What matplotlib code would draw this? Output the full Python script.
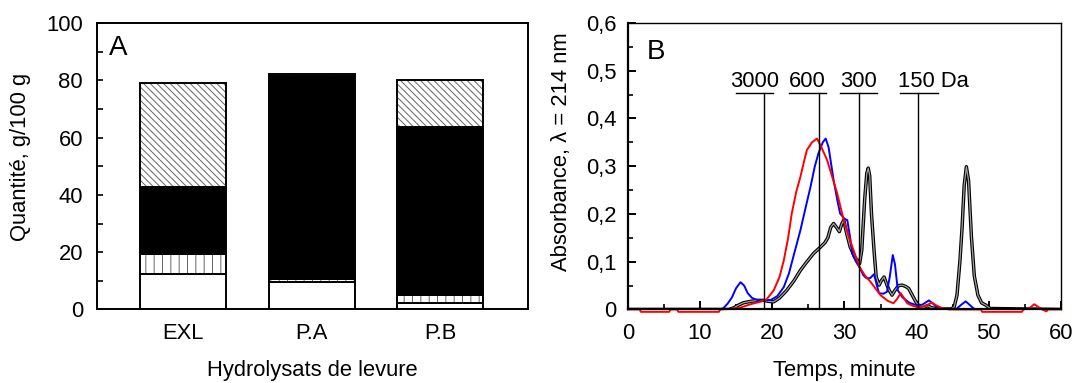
import numpy as np
import matplotlib
matplotlib.use('Agg')
import matplotlib.pyplot as plt
from matplotlib.ticker import MultipleLocator, FuncFormatter

plt.rcParams['font.family'] = ['Liberation Sans', 'DejaVu Sans']
plt.rcParams['hatch.linewidth'] = 0.7

FS = 15.8

# --- panel A : stacked composition (g/100 g) ---
samples = ['EXL', 'P.A', 'P.B']
part_white = [12.5, 9.5, 2.2]
part_vstripe = [6.9, 1.2, 2.7]
part_black = [23.3, 70.8, 58.8]
part_diag = [36.5, 0.7, 16.3]

# --- panel B : chromatograms (time in minutes, absorbance) ---
red_t = [0, 1.6, 1.8, 5.7, 5.9, 6.8, 7.0, 12.6, 12.8, 14.0, 15.6, 17.0, 18.3, 19.2,
         20.2, 21.0, 21.6, 22.2, 22.7, 23.3, 23.9, 24.4, 24.8, 25.5, 26.2, 26.8,
         27.6, 28.3, 29.0, 29.9, 30.5, 31.1, 32.1, 32.8, 33.6, 34.3, 35.0, 36.0,
         36.8, 37.3, 37.8, 38.2, 38.7, 39.4, 40.1, 41.0, 42.1, 42.8, 43.5, 44.5,
         48.9, 49.1, 54.6, 54.8, 55.6, 56.3, 57.0, 57.4, 58.0, 58.2, 60]
red_a = [0, 0, -0.005, -0.005, 0, 0, -0.005, -0.005, 0, 0.001, 0.004, 0.011, 0.016, 0.021,
         0.040, 0.068, 0.103, 0.150, 0.201, 0.245, 0.278, 0.310, 0.334, 0.350, 0.358, 0.340,
         0.313, 0.278, 0.243, 0.187, 0.158, 0.131, 0.089, 0.072, 0.058, 0.044, 0.030, 0.018,
         0.013, 0.022, 0.034, 0.025, 0.013, 0.008, 0.005, 0.006, 0.014, 0.008, 0.003, 0,
         0, -0.005, -0.005, 0, 0.002, 0.011, 0.004, 0, -0.004, 0, 0]

blue_t = [0, 13.0, 13.3, 13.8, 14.4, 15.0, 15.6, 16.1, 16.6, 17.2, 18.1, 18.9, 19.8,
          20.7, 21.6, 22.3, 23.0, 23.9, 24.6, 25.3, 25.9, 26.4, 27.0, 27.4, 27.8,
          28.5, 29.0, 29.4, 30.0, 30.4, 30.8, 31.1, 31.6, 32.1, 32.6, 33.1, 33.6,
          34.1, 34.5, 34.8, 35.4, 35.9, 36.3, 36.7, 37.0, 37.4, 38.0, 39.0, 40.0,
          40.8, 41.7, 42.3, 42.8, 43.5, 45.5, 46.2, 46.8, 47.4, 48.0, 60]
blue_a = [0, 0, 0.004, 0.012, 0.025, 0.045, 0.057, 0.050, 0.034, 0.024, 0.019, 0.019, 0.020,
          0.028, 0.047, 0.075, 0.115, 0.166, 0.212, 0.257, 0.300, 0.327, 0.350, 0.358, 0.340,
          0.271, 0.230, 0.201, 0.190, 0.187, 0.150, 0.117, 0.100, 0.088, 0.072, 0.065, 0.066,
          0.074, 0.050, 0.034, 0.033, 0.037, 0.070, 0.114, 0.095, 0.040, 0.026, 0.014, 0.009,
          0.010, 0.019, 0.012, 0.005, 0.001, 0.001, 0.010, 0.017, 0.009, 0.001, 0]

black_t = [0, 14.0, 14.6, 15.3, 16.0, 17.0, 18.0, 18.8, 19.5, 20.2, 21.0, 22.0, 23.0,
           23.9, 24.8, 25.7, 26.7, 27.3, 27.7, 28.1, 28.5, 28.9, 29.3, 29.6, 29.9,
           30.3, 30.8, 31.4, 32.1, 32.4, 32.8, 33.1, 33.3, 33.5, 33.75, 34.1, 34.4,
           34.8, 35.1, 35.5, 35.8, 36.2, 36.6, 37.0, 37.5, 38.0, 38.5, 38.9, 39.4,
           39.9, 40.5, 41.0, 41.5, 42.0, 43.0, 44.8, 45.2, 45.6, 46.0, 46.3, 46.6,
           46.9, 47.2, 47.6, 48.0, 48.5, 49.0, 49.6, 50.2, 60]
black_a = [0, 0, 0.003, 0.009, 0.014, 0.017, 0.019, 0.019, 0.017, 0.016, 0.024, 0.040, 0.060,
           0.082, 0.100, 0.117, 0.131, 0.140, 0.150, 0.172, 0.180, 0.172, 0.163, 0.178, 0.187,
           0.160, 0.131, 0.110, 0.096, 0.124, 0.229, 0.285, 0.296, 0.280, 0.200, 0.124, 0.068,
           0.051, 0.060, 0.068, 0.055, 0.040, 0.030, 0.040, 0.050, 0.051, 0.048, 0.044, 0.030,
           0.016, 0.004, 0.004, 0.008, 0.004, 0.001, 0.001, 0.005, 0.030, 0.100, 0.170, 0.260,
           0.299, 0.270, 0.152, 0.070, 0.030, 0.014, 0.009, 0.002, 0]

# molecular weight standards (Da) and their elution times
std_labels = ['3000', '600', '300', '150 Da']
std_times = [18.9, 26.5, 32.0, 40.2]

fig = plt.figure(figsize=(10.74, 3.83), dpi=100)
axA = fig.add_axes([0.0903, 0.192, 0.4013, 0.748])
axB = fig.add_axes([0.5847, 0.192, 0.4031, 0.748])

# ---------------- panel A ----------------
x = np.arange(len(samples))
w = 0.668
bottom = np.zeros(len(samples))
layers = [(part_white, 'white', ''), (part_vstripe, 'white', '||'),
          (part_black, 'black', ''), (part_diag, 'white', '\\' * 5)]
for vals, fc, hatch in layers:
    vals = np.array(vals)
    axA.bar(x, vals, w, bottom=bottom, color=fc, edgecolor='#666666', hatch=hatch,
            linewidth=0)
    axA.bar(x, vals, w, bottom=bottom, fill=False, edgecolor='black', linewidth=1.4)
    bottom += vals

axA.set_xlim(-0.668, 2.68)
axA.set_ylim(0, 100)
axA.yaxis.set_major_locator(MultipleLocator(20))
axA.yaxis.set_minor_locator(MultipleLocator(10))
axA.set_xticks(x)
axA.set_xticklabels(samples)
axA.tick_params(axis='y', which='both', direction='in', length=4, width=1.2,
                labelsize=FS, pad=10)
axA.tick_params(axis='x', length=0, labelsize=FS, pad=10)
for s in axA.spines.values():
    s.set_linewidth(1.4)
axA.set_ylabel('Quantité, g/100 g', fontsize=FS, va='center', ha='center')
axA.yaxis.set_label_coords(-0.178, 0.534)
axA.set_xlabel('Hydrolysats de levure', fontsize=FS, va='center')
axA.xaxis.set_label_coords(0.5, -0.212)
axA.text(-0.50, 91.3, 'A', fontsize=20, ha='center', va='center')

# ---------------- panel B ----------------
axB.plot(black_t, black_a, color='black', lw=2.5, solid_joinstyle='round')
axB.plot(black_t, black_a, color='#a0a0a0', lw=0.9, solid_joinstyle='round')
axB.plot(blue_t, blue_a, color='#0000ff', lw=1.4)
axB.plot(red_t, red_a, color='#ff0000', lw=1.4, clip_on=False)

label_x = [17.5, 24.85, 31.95, 37.7]
for lab, tm, lx in zip(std_labels, std_times, label_x):
    axB.plot([tm, tm], [0, 0.453], color='black', lw=1.0)
    if lab.endswith('Da'):
        axB.plot([lx, lx + 5.2], [0.453, 0.453], color='black', lw=1.0)
        axB.text(lx - 0.3, 0.465, lab, fontsize=FS, ha='left', va='baseline')
    else:
        axB.plot([lx - 2.55, lx + 2.55], [0.453, 0.453], color='black', lw=1.0)
        axB.text(lx, 0.465, lab, fontsize=FS, ha='center', va='baseline')

axB.set_xlim(0, 60)
axB.set_ylim(0, 0.6)
axB.xaxis.set_major_locator(MultipleLocator(10))
axB.xaxis.set_minor_locator(MultipleLocator(5))
axB.yaxis.set_major_locator(MultipleLocator(0.1))
axB.yaxis.set_minor_locator(MultipleLocator(0.05))
axB.yaxis.set_major_formatter(FuncFormatter(
    lambda v, p: '0' if abs(v) < 1e-9 else f'{v:.1f}'.replace('.', ',')))
axB.tick_params(which='major', direction='in', length=6, width=1.4, labelsize=FS)
axB.tick_params(which='minor', direction='in', length=3.5, width=1.2)
axB.tick_params(axis='y', pad=8)
axB.tick_params(axis='x', pad=10)
axB.spines['left'].set_linewidth(1.6)
axB.spines['bottom'].set_linewidth(1.6)
axB.spines['top'].set_linewidth(1.0)
axB.spines['right'].set_linewidth(1.0)
axB.set_ylabel('Absorbance, λ = 214 nm', fontsize=FS, va='center', ha='center')
axB.yaxis.set_label_coords((562 - 628) / 432, (309.3 - 152) / 286.3)
axB.set_xlabel('Temps, minute', fontsize=FS, va='center')
axB.xaxis.set_label_coords(0.5, -0.212)
axB.text(3.9, 0.54, 'B', fontsize=20, ha='center', va='center')

fig.savefig('out.png', dpi=100)
